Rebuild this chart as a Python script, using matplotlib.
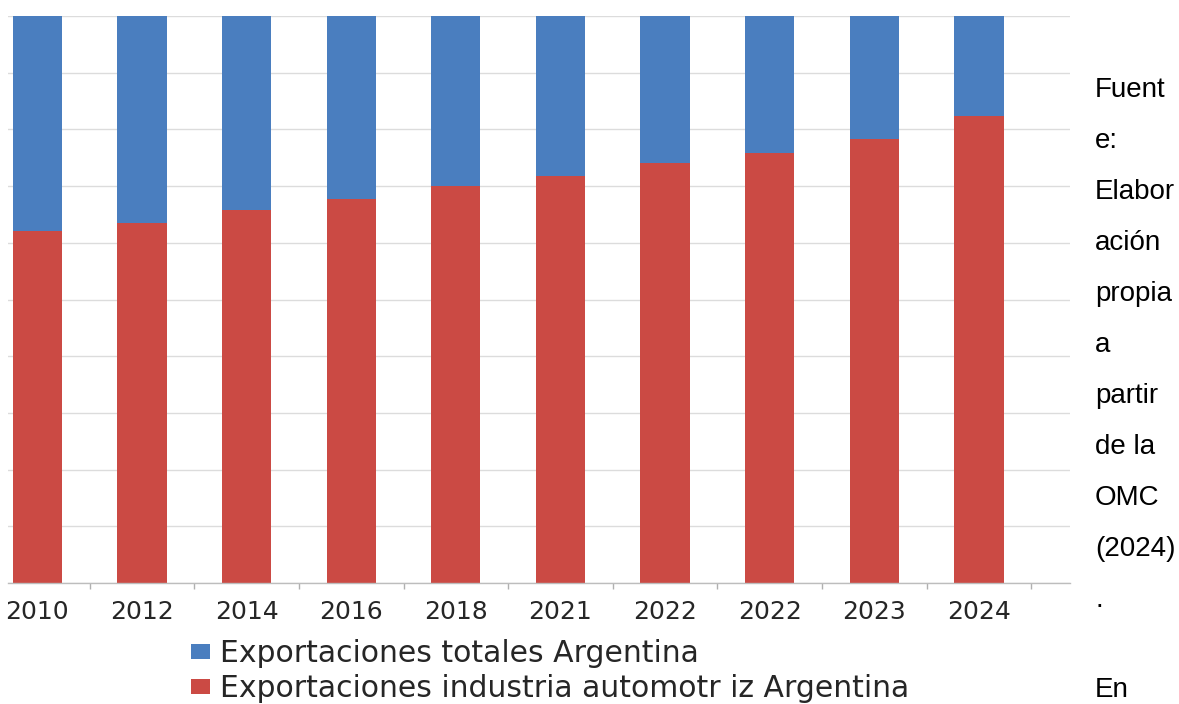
import numpy as np
import matplotlib
matplotlib.use('Agg')
import matplotlib.pyplot as plt

years = ['2010', '2012', '2014', '2016', '2018', '2021', '2022', '2022', '2023', '2024']
# share of the automotive industry (red) and the rest of total exports (blue), in %
auto = [62.0, 63.5, 65.7, 67.7, 70.0, 71.8, 74.1, 75.8, 78.3, 82.4]
totales = [100 - v for v in auto]

fuente = ['Fuent', 'e:', 'Elabor', 'ación', 'propia', 'a', 'partir',
          'de la', 'OMC', '(2024)', '.', '', 'En']

blue = '#4a7ebf'
red = '#cb4a44'

W, H = 1179, 704
fig = plt.figure(figsize=(W / 100, H / 100), dpi=100)
ax = fig.add_axes([8 / W, 1 - 583 / H, (1070 - 8) / W, (583 - 16) / H])

x = np.arange(len(years))
p_auto = ax.bar(x, auto, width=0.47, color=red, zorder=2)
p_tot = ax.bar(x, totales, bottom=auto, width=0.47, color=blue, zorder=2)

ax.set_xlim(-0.28, 9.87)
ax.set_ylim(0, 100)
ax.set_yticks(np.arange(0, 101, 10))
ax.tick_params(axis='y', left=False, labelleft=False)
ax.grid(axis='y', color='#dcdcdc', linewidth=1, zorder=0)
ax.set_xticks(x)
ax.set_xticklabels(years, fontsize=18, color='#262626', family='DejaVu Sans')
ax.set_xticks(list(x + 0.5), minor=True)
ax.tick_params(axis='x', which='major', length=0, pad=12)
ax.tick_params(axis='x', which='minor', length=4, color='#b0b0b0', width=1)
for s in ['top', 'right', 'left']:
    ax.spines[s].set_visible(False)
ax.spines['bottom'].set_color('#bdbdbd')
ax.spines['bottom'].set_linewidth(1)

fig.legend([p_tot, p_auto],
           ['Exportaciones totales Argentina',
            'Exportaciones industria automotr iz Argentina'],
           loc='upper left', bbox_to_anchor=(191 / W, 1 - 639 / H),
           frameon=False, prop={'family': 'DejaVu Sans', 'size': 21.5},
           labelcolor='#262626', handlelength=0.62, handleheight=0.4,
           handletextpad=0.35, labelspacing=0.2, borderpad=0, borderaxespad=0)

for i, t in enumerate(fuente):
    if t:
        yc = min(90 + 51 * i, 690)
        fig.text(1095 / W, 1 - yc / H, t, fontsize=20,
                 family='Liberation Sans', color='black', va='center', ha='left')

fig.savefig('out.png', dpi=100, facecolor='white')
